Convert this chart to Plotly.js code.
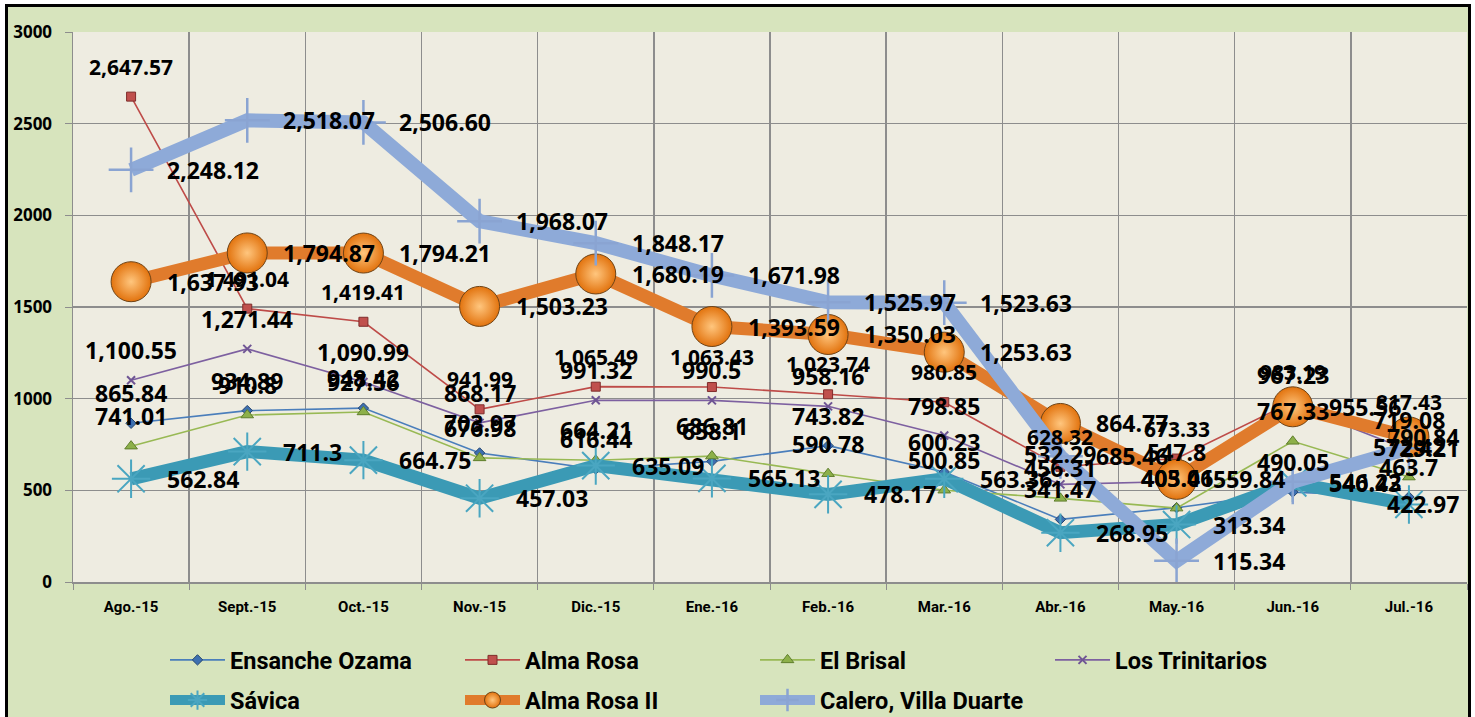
<!DOCTYPE html>
<html><head><meta charset="utf-8">
<script src="https://cdn.plot.ly/plotly-3.0.1.min.js"></script>
<style>
html,body{margin:0;padding:0;background:#fff;overflow:hidden;width:1475px;height:717px;}
#frame{position:absolute;left:5px;top:4px;width:1460px;height:720px;border:3px solid #000;background:#d7e4bd;}
#chart{width:1460px;height:720px;}
</style></head><body><div id="frame"><div id="chart"></div></div>
<script>
// ---- data ----
const months = ['Ago.-15','Sept.-15','Oct.-15','Nov.-15','Dic.-15','Ene.-16','Feb.-16','Mar.-16','Abr.-16','May.-16','Jun.-16','Jul.-16'];
const ensancheOzama  = [865.84, 934.89, 948.42, 703.97, 616.44, 658.1, 743.82, 600.23, 341.47, 405.41, 490.05, 463.7];
const almaRosa       = [2647.57, 1491.04, 1419.41, 941.99, 1065.49, 1063.43, 1023.74, 980.85, 628.32, 673.33, 983.19, 817.43];
const elBrisal       = [741.01, 910.8, 927.56, 676.98, 664.21, 686.81, 590.78, 500.85, 456.31, 403.06, 767.33, 572.42];
const losTrinitarios = [1100.55, 1271.44, 1090.99, 868.17, 991.32, 990.5, 958.16, 798.85, 532.29, 547.8, 967.23, 719.08];
const savica         = [562.84, 711.3, 664.75, 457.03, 635.09, 565.13, 478.17, 563.36, 268.95, 313.34, 540.43, 422.97];
const almaRosaII     = [1637.93, 1794.87, 1794.21, 1503.23, 1680.19, 1393.59, 1350.03, 1253.63, 864.77, 559.84, 955.56, 790.84];
const caleroVD       = [2248.12, 2518.07, 2506.60, 1968.07, 1848.17, 1671.98, 1525.97, 1523.63, 685.46, 115.34, 546.22, 729.21];
const seriesNames = ['Ensanche Ozama','Alma Rosa','El Brisal','Los Trinitarios','Sávica','Alma Rosa II','Calero, Villa Duarte'];
const yTicks = [0, 500, 1000, 1500, 2000, 2500, 3000];

// ---- styles ----
const LBL = 'Open Sans, Liberation Sans, sans-serif';
const NARROW = 'Liberation Sans Narrow, Roboto, Open Sans, sans-serif';

const traces = [
  {name: seriesNames[0], y: ensancheOzama, line:{color:'#4a7ebb', width:1.6},
   marker:{symbol:'diamond', size:8, color:'#3d6fb0', line:{color:'#25466f', width:1}}, legend:'legend'},
  {name: seriesNames[1], y: almaRosa, line:{color:'#be4b48', width:1.6},
   marker:{symbol:'square', size:9, color:'#c0504d', line:{color:'#7f2d2b', width:1}}, legend:'legend'},
  {name: seriesNames[2], y: elBrisal, line:{color:'#98b954', width:1.6},
   marker:{symbol:'triangle-up', size:11, color:'#8db04a', line:{color:'#5f7e2c', width:1}}, legend:'legend'},
  {name: seriesNames[3], y: losTrinitarios, line:{color:'#7d60a0', width:1.6},
   marker:{symbol:'x-thin-open', size:8, color:'#6f5594', line:{color:'#6f5594', width:2}}, legend:'legend'},
  {name: seriesNames[4], y: savica, line:{color:'#3b9ab5', width:13},
   marker:{symbol:'asterisk-open', size:32, color:'#4aa6c1', line:{color:'#4aa6c1', width:2}}, legend:'legend2'},
  {name: seriesNames[5], y: almaRosaII, line:{color:'#e07b2c', width:13},
   marker:{symbol:'circle', size:40, color:'#e2730e', gradient:{type:'radial', color:'#ffc67e'}, line:{color:'#6e4316', width:1}}, legend:'legend2'},
  {name: seriesNames[6], y: caleroVD, line:{color:'#8eaad8', width:14},
   marker:{symbol:'cross-thin-open', size:32, color:'#8aa4d2', line:{color:'#8aa4d2', width:2.5}}, legend:'legend2'}
].map(t => Object.assign({type:'scatter', mode:'lines+markers', x: months, hoverinfo:'skip', cliponaxis:false}, t));

function fmt(v, fixed2) {
  return v.toLocaleString('en-US', {minimumFractionDigits: fixed2 ? 2 : 0, maximumFractionDigits: 2});
}

// label placement: above for thin series, right for thick series
const labelSpecs = [
  {vals: ensancheOzama, pos:'above', size:23, fixed:false},
  {vals: almaRosa, pos:'above', size:21, fixed:false},
  {vals: elBrisal, pos:'above', size:23, fixed:false},
  {vals: losTrinitarios, pos:'above', size:23, fixed:false},
  {vals: savica, pos:'right', size:23, fixed:false},
  {vals: almaRosaII, pos:'right', size:23, fixed:false},
  {vals: caleroVD, pos:'right', size:23, fixed:true}
];
const annotations = [];
labelSpecs.forEach(s => {
  s.vals.forEach((v, i) => {
    const a = {x: months[i], y: v, xref:'x', yref:'y', text: fmt(v, s.fixed), showarrow:false,
      font:{family: LBL, size: s.size, color:'#000', weight:700}, yanchor:'middle'};
    if (s.pos === 'above') { a.xanchor = 'center'; a.yshift = 30; }
    else if (i === months.length - 1) { a.xanchor = 'right'; a.xshift = 52; }
    else { a.xanchor = 'left'; a.xshift = 34; }
    annotations.push(a);
  });
});

const legendBase = {orientation:'h', x:0.066, xanchor:'left', yanchor:'top', bgcolor:'rgba(0,0,0,0)',
    itemwidth:55, entrywidth:225, entrywidthmode:'pixels', itemclick:false, itemdoubleclick:false,
    font:{family: NARROW, size:23.5, color:'#000', weight:700}};

const layout = {
  width: 1460, height: 720,
  margin: {l: 65, r: 1, t: 25, b: 145},
  paper_bgcolor: '#d7e4bd',
  plot_bgcolor: '#eeece1',
  showlegend: true,
  xaxis: {
    type:'category', range:[-0.5, months.length - 0.5], autorange:false, tickson:'boundaries',
    showgrid:true, gridcolor:'#8d8d8d', gridwidth:1.5,
    showline:true, linecolor:'#8d8d8d', linewidth:1.5, ticks:'outside', ticklen:6, tickcolor:'#8d8d8d',
    ticklabelstandoff: 10,
    tickfont:{family: NARROW, size:15, color:'#000', weight:700}, zeroline:false, fixedrange:true
  },
  yaxis: {
    range:[0, 3000], autorange:false, tickvals: yTicks, ticktext: yTicks.map(String), showgrid:true, gridcolor:'#8d8d8d', gridwidth:1.5,
    showline:true, linecolor:'#8d8d8d', linewidth:1.5, ticks:'outside', ticklen:7, tickcolor:'#8d8d8d',
    ticklabelstandoff: 9, zeroline:false,
    tickfont:{family: LBL, size:17, color:'#000', weight:700}, fixedrange:true
  },
  legend: Object.assign({}, legendBase, {y:-0.102}),
  legend2: Object.assign({}, legendBase, {y:-0.175}),
  annotations: annotations
};

Plotly.newPlot('chart', traces, layout, {displayModeBar:false, staticPlot:true});
</script></body></html>
